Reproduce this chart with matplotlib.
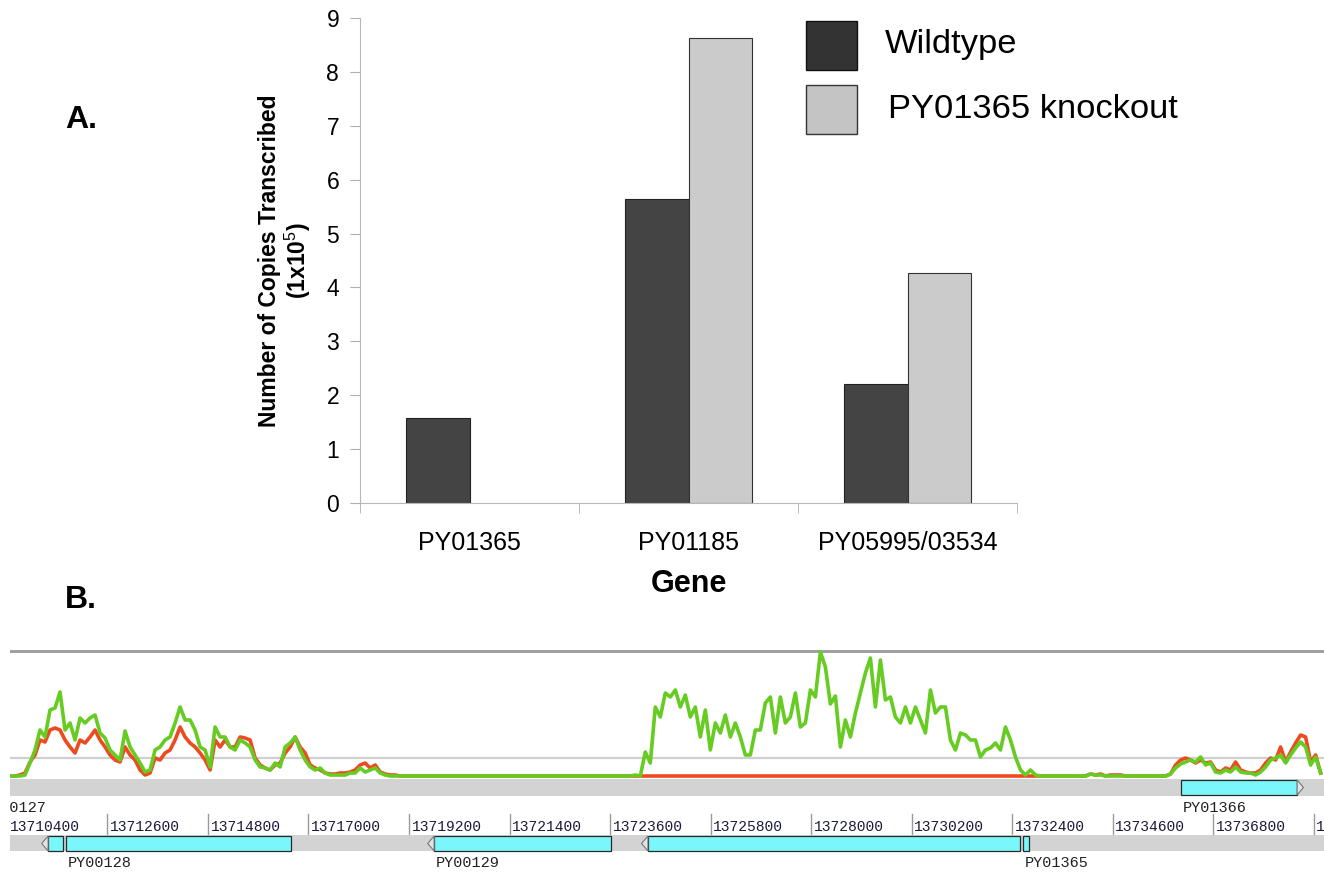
import numpy as np
import matplotlib
matplotlib.use('Agg')
import matplotlib.pyplot as plt
from matplotlib.patches import Rectangle, Polygon

plt.rcParams['font.family'] = ['Liberation Sans', 'DejaVu Sans']
plt.rcParams['mathtext.fontset'] = 'custom'
plt.rcParams['mathtext.rm'] = 'Liberation Sans'
plt.rcParams['mathtext.bf'] = 'Liberation Sans:bold'

# ---- panel A: qPCR copies (x1e5) ----
genes = ['PY01365', 'PY01185', 'PY05995/03534']
wildtype = [1.57, 5.64, 2.20]
knockout = [0.0, 8.63, 4.27]
series_names = ['Wildtype', 'PY01365 knockout']

# ---- panel B: read coverage, one sample every ~110 bp from cov_start ----
cov_start = 13710466
cov_step = 109.5
green_cov = [
    0, 0, 0, 1, 13, 26, 46, 39, 66, 68, 84, 46, 53, 36, 58, 53, 58, 61, 43, 38,
    26, 21, 16, 45, 29, 21, 13, 4, 6, 26, 29, 36, 39, 53, 69, 56, 56, 46, 29, 26,
    9, 49, 39,
    39, 29, 26, 36, 33, 29, 16, 9, 8, 6, 13, 9, 29, 33, 39, 26, 16, 9, 6, 8,
    3, 1, 1, 1, 1, 3, 3, 8, 4, 6, 8, 3, 1, 0, 0, 0,
    0, 0, 0, 0, 0, 0, 0, 0, 0, 0, 0, 0, 0, 0, 0, 0, 0, 0, 0, 0, 0, 0, 0, 0,
    0, 0, 0, 0, 0, 0, 0, 0, 0, 0, 0, 0, 0, 0, 0, 0, 0, 0, 0, 0, 0, 0, 1,
    0, 24, 13, 69, 59, 83, 79, 86, 69, 81, 59, 69, 39, 66, 26, 53, 43, 61, 39, 53,
    39, 21, 21, 46, 46, 73, 79, 43, 79, 53, 59, 83, 49, 53, 86, 79, 124, 109, 72, 80,
    29,
    56, 39, 63, 83, 103, 118, 69, 116, 76, 79, 59, 53, 69, 53, 69, 56, 43, 86, 63, 69,
    69, 36, 26, 43, 41, 36, 36, 19, 26, 28, 33, 26, 49, 36, 19, 6, 1, 6, 1, 0,
    0, 0, 0, 0, 0, 0, 0, 0, 0, 2, 1, 1, 0, 0,
    0, 0, 0, 0, 0, 0, 0, 0, 0, 0, 0,
    2, 8, 12, 14, 16, 14, 19, 11, 13, 4, 3, 6, 4, 9, 4, 3, 3, 1, 4, 9,
    16, 18, 21, 13, 21, 28, 34, 29, 11, 19, 3,
]
red_cov = [
    0, 0, 1, 3, 14, 21, 36, 34, 46, 48, 46, 36, 29, 23, 36, 33, 39, 46, 36, 29,
    21, 16, 14, 29, 21, 16, 6, 1, 3, 18, 16, 23, 26, 36, 49, 39, 33, 29, 23, 16,
    6, 36, 29,
    36, 29, 29, 39, 38, 36, 18, 11, 8, 6, 11, 13, 23, 29, 39, 29, 23, 11, 8, 6,
    3, 2, 2, 3, 3, 4, 6, 11, 13, 8, 11, 4, 2, 1, 1, 0,
    0, 0, 0, 0, 0, 0, 0, 0, 0, 0, 0, 0, 0, 0, 0, 0, 0, 0, 0, 0, 0, 0, 0, 0,
    0, 0, 0, 0, 0, 0, 0, 0, 0, 0, 0, 0, 0, 0, 0, 0, 0, 0, 0, 0, 0, 0, 0,
    0, 0, 0, 0, 0, 0, 0, 0, 0, 0, 0, 0, 0, 0, 0, 0, 0, 0, 0, 0,
    0, 0, 0, 0, 0, 0, 0, 0, 0, 0, 0, 0, 0, 0, 0, 0, 0, 0, 0, 0,
    0,
    0, 0, 0, 0, 0, 0, 0, 0, 0, 0, 0, 0, 0, 0, 0, 0, 0, 0, 0, 0,
    0, 0, 0, 0, 0, 0, 0, 0, 0, 0, 0, 0, 0, 0, 0, 0, 0, 0, 0, 0,
    0, 0, 0, 0, 0, 0, 0, 0, 0, 2, 1, 2, 0, 1,
    1, 1, 0, 0, 0, 0, 0, 0, 0, 0, 0,
    2, 11, 16, 18, 16, 13, 16, 13, 14, 6, 4, 8, 6, 14, 6, 4, 3, 3, 6, 13,
    18, 16, 29, 14, 24, 33, 41, 39, 14, 21, 3,
]

ruler_ticks = [13710400, 13712600, 13714800, 13717000, 13719200, 13721400, 13723600,
               13725800, 13728000, 13730200, 13732400, 13734600, 13736800, 13739000]

gene_names = ['PY00128', 'PY00129', 'PY01365', 'PY01366']
gene_exons = [[(13711300, 13711630), (13711690, 13716620)],
              [(13719750, 13723620)],
              [(13724430, 13732570), (13732640, 13732770)],
              [(13736100, 13738640)]]
gene_strand = ['-', '-', '-', '+']
gene_label_exon = [1, 0, 1, 0]
offscreen_gene = ('PY00127', 13709870, '+')

view = (13710466, 13739229)

fig = plt.figure(figsize=(13.24, 8.72), dpi=100)
W, H = 1324, 872

# ---------------- panel A ----------------
ax = fig.add_axes([360 / W, 1 - 503 / H, 657 / W, 485 / H])
x = np.arange(len(genes))
w = 0.288
wt_col, ko_col = '#444444', '#cbcbcb'
ax.bar(x - w / 2, wildtype, w, color=wt_col, edgecolor='#222222', lw=0.8)
ko = ax.bar(x + w / 2, knockout, w, color=ko_col, edgecolor='#333333', lw=0.8)
for b, v in zip(ko, knockout):
    if v == 0:
        b.set_linewidth(0)

ax.set_xlim(-0.5, len(genes) - 0.5)
ax.set_ylim(0, 9)
ax.set_yticks(range(10))
ax.set_xticks(x, genes)
ax.set_xticks(np.arange(len(genes) + 1) - 0.5, minor=True)
ax.tick_params(axis='x', which='major', length=0, pad=20, labelsize=18)
ax.tick_params(axis='x', which='minor', length=7, color='#b0b0b0')
ax.tick_params(axis='y', length=7, color='#b0b0b0', labelsize=16.5, pad=8)
for s in ['top', 'right']:
    ax.spines[s].set_visible(False)
for s in ['left', 'bottom']:
    ax.spines[s].set_color('#b8b8b8')

ax.set_ylabel('Number of Copies Transcribed\n(1x10$^5$)', fontsize=16.5,
              fontweight='bold', linespacing=1.05)
ax.yaxis.set_label_coords(-0.072, 0.5)
ax.set_xlabel('Gene', fontsize=22, fontweight='bold')
ax.xaxis.set_label_coords(0.5, -0.136)

# legend drawn as figure patches so the boxes match the reference size
leg_cols = [('#333333', '#111111'), ('#c4c4c4', '#333333')]
leg_tops = [21, 85]
leg_text_x = [885, 888]
for (fc, ec), top, tx, name in zip(leg_cols, leg_tops, leg_text_x, series_names):
    fig.add_artist(Rectangle((806 / W, 1 - (top + 49) / H), 51 / W, 49 / H,
                             transform=fig.transFigure, facecolor=fc, edgecolor=ec, lw=1))
    fig.text(tx / W, 1 - (top + 24) / H, name, fontsize=24.8, va='center', ha='left')

fig.text(65 / W, 1 - 120 / H, 'A.', fontsize=23, fontweight='bold', va='center')
fig.text(65 / W, 1 - 600 / H, 'B.', fontsize=23, fontweight='bold', va='center')

# ---------------- panel B: coverage ----------------
axc = fig.add_axes([10 / W, 1 - 778 / H, 1314 / W, 130 / H])
pos = cov_start + cov_step * np.arange(len(green_cov))
axc.axhline(125, color='#9a9a9a', lw=2)
axc.axhline(18, color='#cfcfcf', lw=1.6)
axc.plot(pos, red_cov, color='#ee4a20', lw=2.6)
axc.plot(pos, green_cov, color='#66cc22', lw=2.6)
axc.set_xlim(view)
axc.set_ylim(-2, 128)
axc.axis('off')

# ---------------- panel B: gene tracks ----------------
axt = fig.add_axes([10 / W, 0, 1314 / W, 94 / H])
axt.set_xlim(view)
axt.set_ylim(872, 778)
axt.axis('off')

rows = {'+': (780, 795, 808), '-': (836, 851, 863)}
axt.axhspan(779, 796, color='#d3d3d3', lw=0)
axt.axhspan(835, 851, color='#d3d3d3', lw=0)

mono = 'Liberation Mono'
for t in ruler_ticks:
    axt.plot([t, t], [814, 834], color='#9a9a9a', lw=1, clip_on=True)
    axt.text(t + 55, 827, str(t), family=mono, fontsize=10.5, color='#1a1a3a',
             ha='left', va='center', clip_on=True)

cyan = '#7af7fb'
for name, exons, strand, li in zip(gene_names, gene_exons, gene_strand, gene_label_exon):
    top, bot, ly = rows[strand]
    for s, e in exons:
        axt.add_patch(Rectangle((s, top), e - s, bot - top, facecolor=cyan,
                                edgecolor='#2a2a2a', lw=0.9))
    if strand == '-':
        s0 = exons[0][0]
        tri = [(s0, top), (s0 - 140, (top + bot) / 2), (s0, bot)]
    else:
        e0 = exons[-1][1]
        tri = [(e0, top), (e0 + 140, (top + bot) / 2), (e0, bot)]
    axt.add_patch(Polygon(tri, closed=True, facecolor='#e4e4e4', edgecolor='#777777', lw=0.8))
    axt.text(exons[li][0] + 40, ly, name, family=mono, fontsize=11, color='#222222',
             ha='left', va='center')

nm, px, st = offscreen_gene
axt.text(px, rows[st][2], nm, family=mono, fontsize=11, color='#222222',
         ha='left', va='center', clip_on=True)

fig.savefig('out.png', dpi=100)
